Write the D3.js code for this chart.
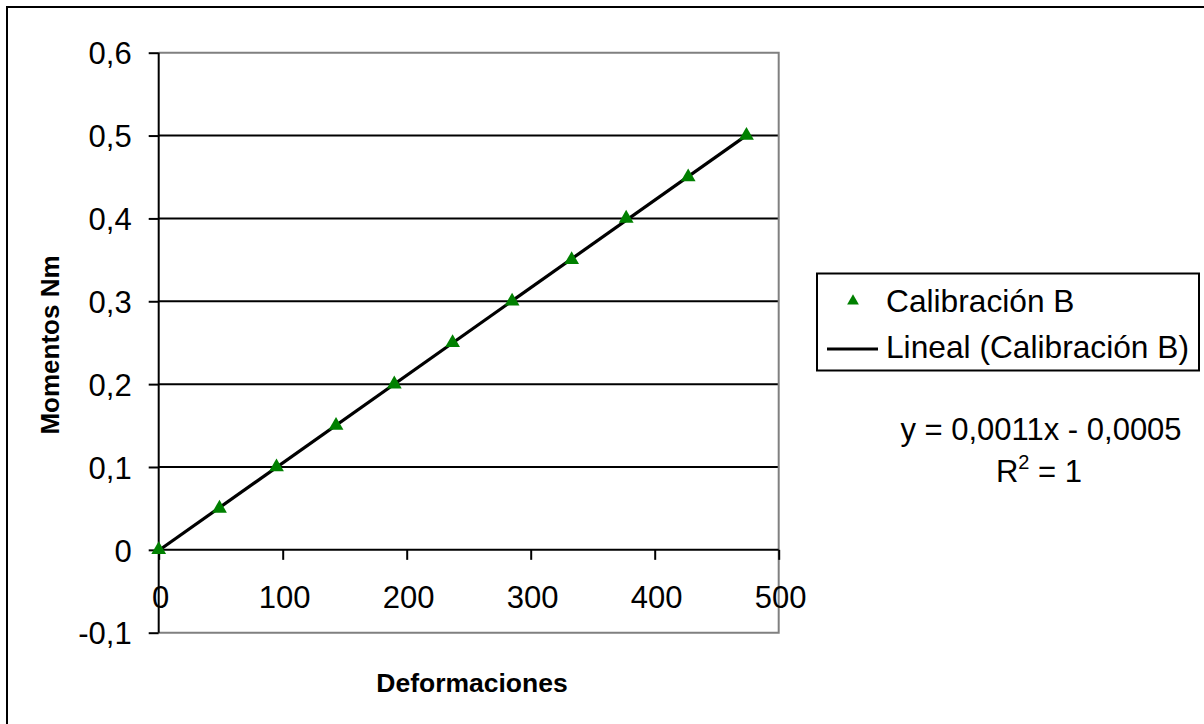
<!DOCTYPE html>
<html>
<head>
<meta charset="utf-8">
<script src="https://cdn.jsdelivr.net/npm/d3@7"></script>
<style>
  html, body { margin: 0; padding: 0; background: #fff; overflow: hidden; }
  svg { display: block; font-family: Arial, "Liberation Sans", sans-serif; }
</style>
</head>
<body>
<svg id="chart" width="1204" height="724"></svg>
<script>
// Calibration readings: deformation vs. moment
const deformaciones = [0, 49, 95, 143, 190, 237, 285, 333, 377, 427, 474];
const momentos = [0, 0.05, 0.1, 0.15, 0.2, 0.25, 0.3, 0.35, 0.4, 0.45, 0.5];
const xTicks = [0, 100, 200, 300, 400, 500];
const yTicks = [-0.1, 0, 0.1, 0.2, 0.3, 0.4, 0.5, 0.6];
const seriesName = "Calibración B";
const trendName = "Lineal (Calibración B)";
const equationText = "y = 0,0011x - 0,0005";

const FONT = "Arial, 'Liberation Sans', sans-serif";
const svg = d3.select("#chart");

// Chart frame (extends past the visible window on the right and bottom)
svg.append("rect")
  .attr("x", 7).attr("y", 7)
  .attr("width", 1220).attr("height", 740)
  .attr("fill", "#fff").attr("stroke", "#000").attr("stroke-width", 2);

const plot = { left: 158.7, right: 778.7, top: 52.7, bottom: 632.7 };

const x = d3.scaleLinear().domain([0, 500]).range([plot.left, plot.right]);
const y = d3.scaleLinear().domain([-0.1, 0.6]).range([plot.bottom, plot.top]);

// Decimal comma, plain hyphen for negatives, bare "0" at zero
const yFmt = v => {
  if (Math.abs(v) < 1e-9) return "0";
  const s = Math.abs(v).toFixed(1).replace(".", ",");
  return (v < 0 ? "-" : "") + s;
};

// Horizontal gridlines
svg.append("g")
  .selectAll("line")
  .data(yTicks.filter(v => v > 0.05 && v < 0.55))
  .join("line")
  .attr("x1", plot.left).attr("x2", plot.right)
  .attr("y1", d => y(d)).attr("y2", d => y(d))
  .attr("stroke", "#000").attr("stroke-width", 2);

// Plot area border (top, right, bottom)
svg.append("path")
  .attr("d", `M${plot.left},${plot.top}H${plot.right}V${plot.bottom}H${plot.left}`)
  .attr("fill", "none").attr("stroke", "#808080").attr("stroke-width", 2);

// Y axis
const yAxis = d3.axisLeft(y).tickValues(yTicks).tickSize(10).tickPadding(17).tickFormat(yFmt);
const gy = svg.append("g").attr("transform", `translate(${plot.left},0)`).call(yAxis);
gy.select(".domain").attr("stroke", "#000").attr("stroke-width", 2)
  .attr("d", `M0,${plot.top}V${plot.bottom}`);
gy.selectAll(".tick line").attr("stroke", "#000").attr("stroke-width", 2);
gy.selectAll(".tick text")
  .attr("font-size", 31).attr("fill", "#000").attr("dy", "0.36em")
  .attr("font-family", FONT);

// X axis placed at y = 0
const xAxis = d3.axisBottom(x).tickValues(xTicks).tickSize(10).tickPadding(26)
  .tickFormat(d => String(d));
const gx = svg.append("g").attr("transform", `translate(0,${y(0)})`).call(xAxis);
gx.select(".domain").attr("stroke", "#000").attr("stroke-width", 2)
  .attr("d", `M${plot.left},0H${plot.right}`);
gx.selectAll(".tick line").attr("stroke", "#000").attr("stroke-width", 2);
gx.selectAll(".tick text")
  .attr("font-size", 31).attr("fill", "#000").attr("dy", "0.71em")
  .attr("x", 1.5)
  .attr("font-family", FONT);

// Least-squares trendline from the readings
const n = deformaciones.length;
const mx = d3.mean(deformaciones), my = d3.mean(momentos);
let sxy = 0, sxx = 0;
for (let i = 0; i < n; i++) {
  sxy += (deformaciones[i] - mx) * (momentos[i] - my);
  sxx += (deformaciones[i] - mx) ** 2;
}
const slope = sxy / sxx;
const intercept = my - slope * mx;
const xExt = d3.extent(deformaciones);

svg.append("line")
  .attr("x1", x(xExt[0])).attr("y1", y(slope * xExt[0] + intercept))
  .attr("x2", x(xExt[1])).attr("y2", y(slope * xExt[1] + intercept))
  .attr("stroke", "#000").attr("stroke-width", 3.2);

// Markers
const tri = d3.symbol().type(d3.symbolTriangle).size(95);
svg.append("g")
  .selectAll("path")
  .data(deformaciones.map((d, i) => [d, momentos[i]]))
  .join("path")
  .attr("d", tri)
  .attr("transform", d => `translate(${x(d[0])},${y(d[1])})`)
  .attr("fill", "#008000");

// Axis titles
svg.append("text")
  .attr("x", 472).attr("y", 692)
  .attr("text-anchor", "middle")
  .attr("font-size", 26.5).attr("font-weight", "bold")
  .text("Deformaciones");

svg.append("text")
  .attr("transform", "translate(59,345) rotate(-90)")
  .attr("text-anchor", "middle")
  .attr("font-size", 26).attr("font-weight", "bold")
  .text("Momentos Nm");

// Legend
const legend = svg.append("g");
legend.append("rect")
  .attr("x", 817).attr("y", 273.5)
  .attr("width", 382).attr("height", 97)
  .attr("fill", "#fff").attr("stroke", "#000").attr("stroke-width", 2);
legend.append("path")
  .attr("d", d3.symbol().type(d3.symbolTriangle).size(60))
  .attr("transform", "translate(853,301)")
  .attr("fill", "#008000");
legend.append("text")
  .attr("x", 886).attr("y", 312)
  .attr("font-size", 31.7)
  .text(seriesName);
legend.append("line")
  .attr("x1", 827).attr("x2", 878)
  .attr("y1", 349).attr("y2", 349)
  .attr("stroke", "#000").attr("stroke-width", 3.2);
legend.append("text")
  .attr("x", 886).attr("y", 358)
  .attr("font-size", 31.7)
  .text(trendName);

// Trendline equation and R²
svg.append("text")
  .attr("x", 1041).attr("y", 440)
  .attr("text-anchor", "middle")
  .attr("font-size", 31)
  .text(equationText);

const r2 = svg.append("text")
  .attr("x", 1039).attr("y", 482)
  .attr("text-anchor", "middle")
  .attr("font-size", 31);
r2.append("tspan").text("R");
r2.append("tspan").attr("dy", -13).attr("font-size", 20).text("2");
r2.append("tspan").attr("dy", 13).text(" = 1");
</script>
</body>
</html>
